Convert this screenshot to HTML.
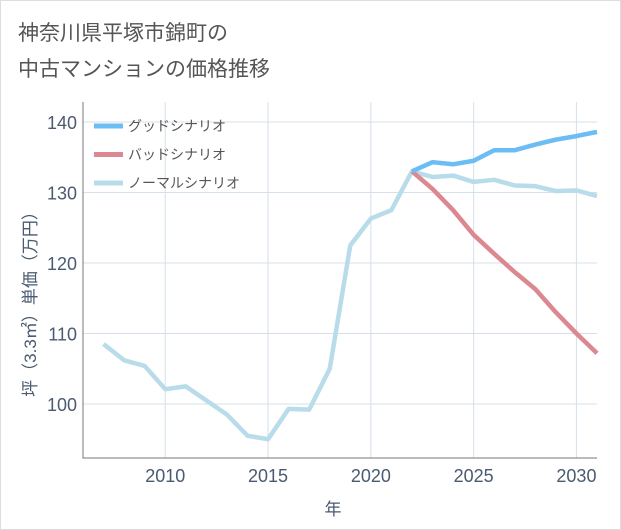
<!DOCTYPE html>
<html><head><meta charset="utf-8"><style>
body{margin:0;background:#fff;font-family:"Liberation Sans","Noto Sans CJK JP",sans-serif;}
#wrap{position:relative;width:619px;height:528px;border:1px solid #ddd;background:#fff;}
</style></head><body>
<div id="wrap">
<svg id="c" width="621" height="530" style="position:absolute;left:-1px;top:-1px">
<text x="18" y="40" font-size="21" fill="#555">神奈川県平塚市錦町の</text>
<text x="18" y="76" font-size="21" fill="#555">中古マンションの価格推移</text>
</svg>
</div>
<script>
const years=[2007,2008,2009,2010,2011,2012,2013,2014,2015,2016,2017,2018,2019,2020,2021,2022,2023,2024,2025,2026,2027,2028,2029,2030,2031];
const normal=[108.5,106.2,105.4,102.1,102.5,100.5,98.5,95.5,95,99.3,99.2,105,122.5,126.3,127.5,133,132.2,132.4,131.5,131.8,131,130.9,130.2,130.3,129.5];
const goodYears=[2022,2023,2024,2025,2026,2027,2028,2029,2030,2031];
const good=[133,134.3,134,134.5,136,136,136.8,137.5,138,138.6];
const bad=[133,130.5,127.5,124,121.3,118.7,116.3,113,110,107.2];
const xTicks=[2010,2015,2020,2025,2030];
const yTicks=[100,110,120,130,140];
const NS='http://www.w3.org/2000/svg';
const svg=document.getElementById('c');
const L=83,R=597,T=102,B=458;
const X=v=>L+(v-2006)/(2031-2006)*(R-L);
const Y=v=>404+(100-v)*7.05;
function el(t,a){const e=document.createElementNS(NS,t);for(const k in a)e.setAttribute(k,a[k]);svg.appendChild(e);return e;}
xTicks.forEach(t=>{const g=el('line',{x1:X(t),x2:X(t),y1:T,y2:B,stroke:'#d5e0ea','stroke-width':1});


const tx=el('text',{x:X(t),y:B+24,'text-anchor':'middle','font-size':18,fill:'#4a5a70'});tx.textContent=t;

});
yTicks.forEach(t=>{const g=el('line',{x1:L,x2:R,y1:Y(t),y2:Y(t),stroke:'#d5e0ea','stroke-width':1});


const tx=el('text',{x:L-6,y:Y(t)+7,'text-anchor':'end','font-size':18,fill:'#4a5a70'});tx.textContent=t;

});
const ax=el('path',{d:`M${L},${T}V${B}H${R}`,fill:'none',stroke:'#777','stroke-width':1});


function line(xs,ys,col,name){const p=el('polyline',{points:xs.map((x,i)=>X(x)+','+Y(ys[i])).join(' '),fill:'none',stroke:col,'stroke-width':4.5,'stroke-linejoin':'round'});

}
line(years,normal,'#b8dcea','normal-scenario-line');
line(goodYears,bad,'#dc8890','bad-scenario-line');
line(goodYears,good,'#6bbdf3','good-scenario-line');
const leg=[['グッドシナリオ','#6bbdf3'],['バッドシナリオ','#dc8890'],['ノーマルシナリオ','#b8dcea']];
leg.forEach((l,i)=>{const y=126+i*28.5;
const s=el('line',{x1:94,x2:123,y1:y,y2:y,stroke:l[1],'stroke-width':5});


const t=el('text',{x:128,y:y+5,'font-size':14,fill:'#555'});t.textContent=l[0];

});
const xt=el('text',{x:333,y:515,'text-anchor':'middle','font-size':17,fill:'#4a5a70'});xt.textContent='年';


const yt=el('text',{x:0,y:0,'text-anchor':'middle','font-size':17,fill:'#4a5a70',transform:'translate(36,300) rotate(-90)'});yt.textContent='坪（3.3㎡）単価（万円）';


</script>
</body></html>
